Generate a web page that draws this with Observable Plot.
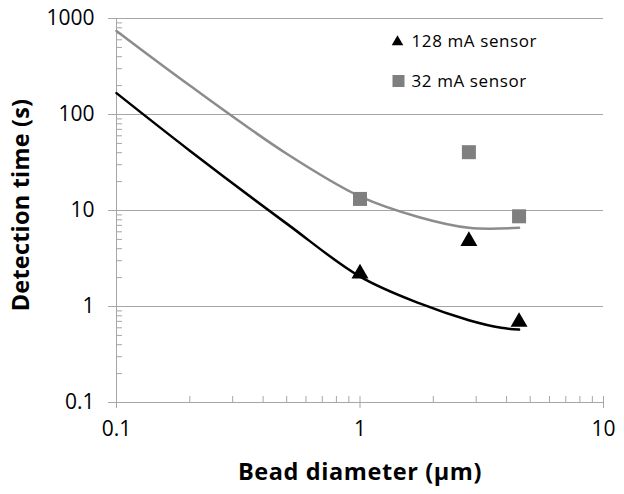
<!DOCTYPE html>
<html>
<head>
<meta charset="utf-8">
<script src="https://cdn.jsdelivr.net/npm/d3@7"></script>
<script src="https://cdn.jsdelivr.net/npm/@observablehq/plot@0.6"></script>
<style>
  html, body { margin: 0; padding: 0; background: #fff; }
  #wrap { position: relative; width: 624px; height: 494px; }
  #wrap svg { font-family: "Open Sans", Lato, sans-serif; }
  g[aria-label="x-axis tick label"] text, g[aria-label="y-axis tick label"] text { font-size: 21px; fill: #000; }
  #overlay { position: absolute; left: 0; top: 0; pointer-events: none; }
</style>
</head>
<body>
<div id="wrap"></div>
<script>
// Model curves (bead diameter in µm, detection time in s)
const xModel32 = [0.1, 0.2, 0.5, 1, 1.75, 2.8, 4.5];
const yModel32 = [740, 200, 39, 14, 8.5, 6.6, 6.6];
const xModel128 = [0.1, 0.2, 0.5, 1, 1.77, 2.8, 3.8, 4.5];
const yModel128 = [167, 42, 7.3, 2.05, 1.07, 0.72, 0.6, 0.575];
// Measured points
const xMeas = [1, 2.8, 4.5];
const yMeas128 = [2.2, 4.8, 0.69];
const yMeas32 = [13.2, 40.5, 8.7];
// Axis ticks
const xTicks = [0.1, 1, 10];
const xTickLabels = ["0.1", "1", "10"];
const yTicks = [0.1, 1, 10, 100, 1000];
const yTickLabels = ["0.1", "1", "10", "100", "1000"];
const xTitle = "Bead diameter (µm)";
const yTitle = "Detection time (s)";
const seriesNames = ["128 mA sensor", "32 mA sensor"];
const seriesColors = ["#000000", "#7f7f7f"];
const lineColors = ["#000000", "#8c8c8c"];

const xLabelMap = new Map(xTicks.map((d, i) => [d, xTickLabels[i]]));
const yLabelMap = new Map(yTicks.map((d, i) => [d, yTickLabels[i]]));

const minorY = [];
for (const d of [0.1, 1, 10, 100]) for (let k = 2; k <= 9; k++) minorY.push(+(d * k).toPrecision(3));
const minorX = [];
for (const d of [0.1, 1]) for (let k = 1; k <= 9; k++) minorX.push(+(d * k).toPrecision(3));
minorX.push(10);

const m32 = xModel32.map((x, i) => ({x, y: yModel32[i]}));
const m128 = xModel128.map((x, i) => ({x, y: yModel128[i]}));
const p128 = xMeas.map((x, i) => ({x, y: yMeas128[i]}));
const p32 = xMeas.map((x, i) => ({x, y: yMeas32[i]}));

const grid = "#a6a6a6";
const chart = Plot.plot({
  width: 624,
  height: 494,
  marginLeft: 116,
  marginRight: 21,
  marginTop: 18,
  marginBottom: 92,
  x: {type: "log", domain: [0.1, 10]},
  y: {type: "log", domain: [0.1, 1000]},
  marks: [
    Plot.gridY(yTicks, {stroke: grid, strokeOpacity: 1}),
    Plot.ruleX([0.1], {stroke: grid}),
    Plot.ruleY([0.1], {stroke: grid}),
    Plot.axisY(minorY, {tickSize: -6, stroke: grid, tickFormat: () => "", label: null}),
    Plot.axisY(yTicks, {tickSize: 8, stroke: grid, tickPadding: 14, tickFormat: d => yLabelMap.get(d), label: null}),
    Plot.axisX(minorX, {tickSize: -6, stroke: grid, tickFormat: () => "", label: null}),
    Plot.axisX(xTicks, {tickSize: 6, stroke: grid, tickPadding: 13, tickFormat: d => xLabelMap.get(d), label: null}),
    Plot.line(m32, {x: "x", y: "y", stroke: lineColors[1], strokeWidth: 2.5, curve: "catmull-rom"}),
    Plot.line(m128, {x: "x", y: "y", stroke: lineColors[0], strokeWidth: 2.5, curve: "catmull-rom"}),
    Plot.dot(p32, {x: "x", y: "y", symbol: "square", r: 7.9, fill: seriesColors[1], stroke: null}),
    Plot.dot(p128, {x: "x", y: "y", symbol: "triangle", r: 6.3, fill: seriesColors[0], stroke: null})
  ]
});
const wrap = document.getElementById("wrap");
wrap.appendChild(chart);

// Titles and legend overlay
const ov = d3.select(wrap).append("svg").attr("id", "overlay").attr("width", 624).attr("height", 494)
  .style("font-family", '"Open Sans", Lato, sans-serif');
ov.append("text").attr("x", 360).attr("y", 480).attr("text-anchor", "middle")
  .style("font-size", "23.5px").style("font-weight", "bold").style("letter-spacing", "0.6px").text(xTitle);
ov.append("text").attr("transform", "translate(28.5,205) rotate(-90)").attr("text-anchor", "middle")
  .style("font-size", "23.5px").style("font-weight", "bold").style("letter-spacing", "0.2px").text(yTitle);
const lg = ov.append("g");
lg.append("path").attr("transform", "translate(397.5,42)").attr("d", d3.symbol(d3.symbolTriangle, 58)()).attr("fill", seriesColors[0]);
lg.append("text").attr("x", 411.5).attr("y", 46.5).style("font-size", "17px").style("letter-spacing", "0.6px").text(seriesNames[0]);
lg.append("path").attr("transform", "translate(398.5,81)").attr("d", d3.symbol(d3.symbolSquare, 144)()).attr("fill", seriesColors[1]);
lg.append("text").attr("x", 411.5).attr("y", 87).style("font-size", "17px").style("letter-spacing", "0.6px").text(seriesNames[1]);
</script>
</body>
</html>
